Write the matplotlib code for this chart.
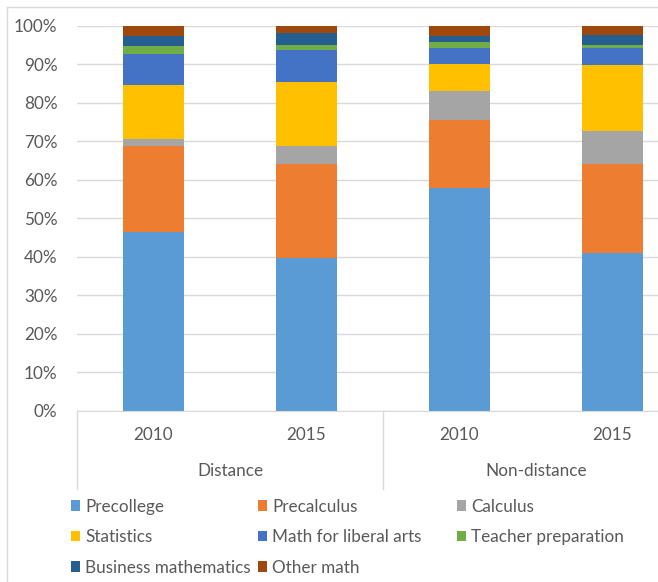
import matplotlib
matplotlib.use("Agg")
import matplotlib.pyplot as plt
from matplotlib.patches import Patch
from matplotlib.lines import Line2D
import numpy as np

# data (percent of enrolment per course type)
years = ["2010", "2015", "2010", "2015"]
groups = ["Distance", "Non-distance"]
series_names = ["Precollege", "Precalculus", "Calculus", "Statistics",
                "Math for liberal arts", "Teacher preparation",
                "Business mathematics", "Other math"]
precollege = [46.5, 39.7, 58.0, 41.0]
precalculus = [22.2, 24.3, 17.6, 23.0]
calculus = [2.0, 4.7, 7.4, 8.8]
statistics = [13.9, 16.8, 7.2, 17.0]
liberal_arts = [8.0, 8.2, 4.2, 4.5]
teacher_prep = [2.3, 1.3, 1.5, 0.7]
business = [2.5, 3.3, 1.6, 2.7]
other_math = [2.6, 1.7, 2.5, 2.3]

series = [precollege, precalculus, calculus, statistics,
          liberal_arts, teacher_prep, business, other_math]
colors = ["#5B9BD5", "#ED7D31", "#A5A5A5", "#FFC000",
          "#4472C4", "#70AD47", "#255E91", "#9E480E"]

text_color = "#595959"
grid_color = "#D9D9D9"
plt.rcParams['font.family'] = ['Lato', 'DejaVu Sans']
fs = 12.3

W, H = 658, 582
fig = plt.figure(figsize=(W / 100, H / 100), dpi=100)
left, right, top, bottom = 77, 77 + 612, 26, 410.7
ax = fig.add_axes([left / W, 1 - bottom / H, (right - left) / W, (bottom - top) / H])

x = np.arange(len(years))
base = np.zeros(len(years))
for vals, col, name in zip(series, colors, series_names):
    ax.bar(x, vals, 0.4, bottom=base, color=col, label=name, zorder=2)
    base += np.array(vals)

ax.set_xlim(-0.5, 3.5)
ax.set_ylim(0, 100)
ax.set_yticks(np.arange(0, 101, 10))
ax.set_yticklabels([f"{v}%" for v in range(0, 101, 10)])
ax.yaxis.grid(True, color=grid_color, linewidth=1, zorder=0)
ax.set_axisbelow(True)
for s in ["top", "right", "left"]:
    ax.spines[s].set_visible(False)
ax.spines["bottom"].set_color(grid_color)
ax.tick_params(axis="y", length=0, pad=14, labelsize=fs, labelcolor=text_color)
ax.set_xticks(x)
ax.set_xticklabels([])
ax.tick_params(axis="x", length=0)

# two level category axis
trans = ax.get_xaxis_transform()
for xi, yr in zip(x, years):
    ax.text(xi, -24 / (bottom - top), yr, transform=trans, ha="center", va="center",
            fontsize=fs, color=text_color)
for gi, g in enumerate(groups):
    ax.text(gi * 2 + 0.5, -60 / (bottom - top), g, transform=trans, ha="center",
            va="center", fontsize=fs, color=text_color)
for xd in [-0.5, 1.5, 3.5]:
    ax.add_line(Line2D([xd, xd], [0, -78 / (bottom - top)], transform=trans,
                       color=grid_color, linewidth=1, clip_on=False))

# chart border (left and top edges visible in the crop)
fig.add_artist(Line2D([7 / W, 7 / W], [0, 1 - 7 / H], transform=fig.transFigure,
                      color=grid_color, linewidth=1))
fig.add_artist(Line2D([7 / W, 1], [1 - 7 / H, 1 - 7 / H], transform=fig.transFigure,
                      color=grid_color, linewidth=1))

# legend: three fixed columns, filled row by row like the original
columns = [[0, 3, 6], [1, 4, 7], [2, 5]]
col_x = [62, 249, 448]
for idx, cx in zip(columns, col_x):
    handles = [Patch(facecolor=colors[i], edgecolor="none") for i in idx]
    labels = [series_names[i] for i in idx]
    leg = fig.legend(handles, labels, ncol=1, loc="upper left",
                     bbox_to_anchor=(cx / W, 1 - 490 / H), frameon=False,
                     fontsize=fs, handlelength=0.55, handleheight=0.55,
                     handletextpad=0.3, labelspacing=0.85, borderpad=0)
    for t in leg.get_texts():
        t.set_color(text_color)

fig.savefig("out.png", dpi=100)
